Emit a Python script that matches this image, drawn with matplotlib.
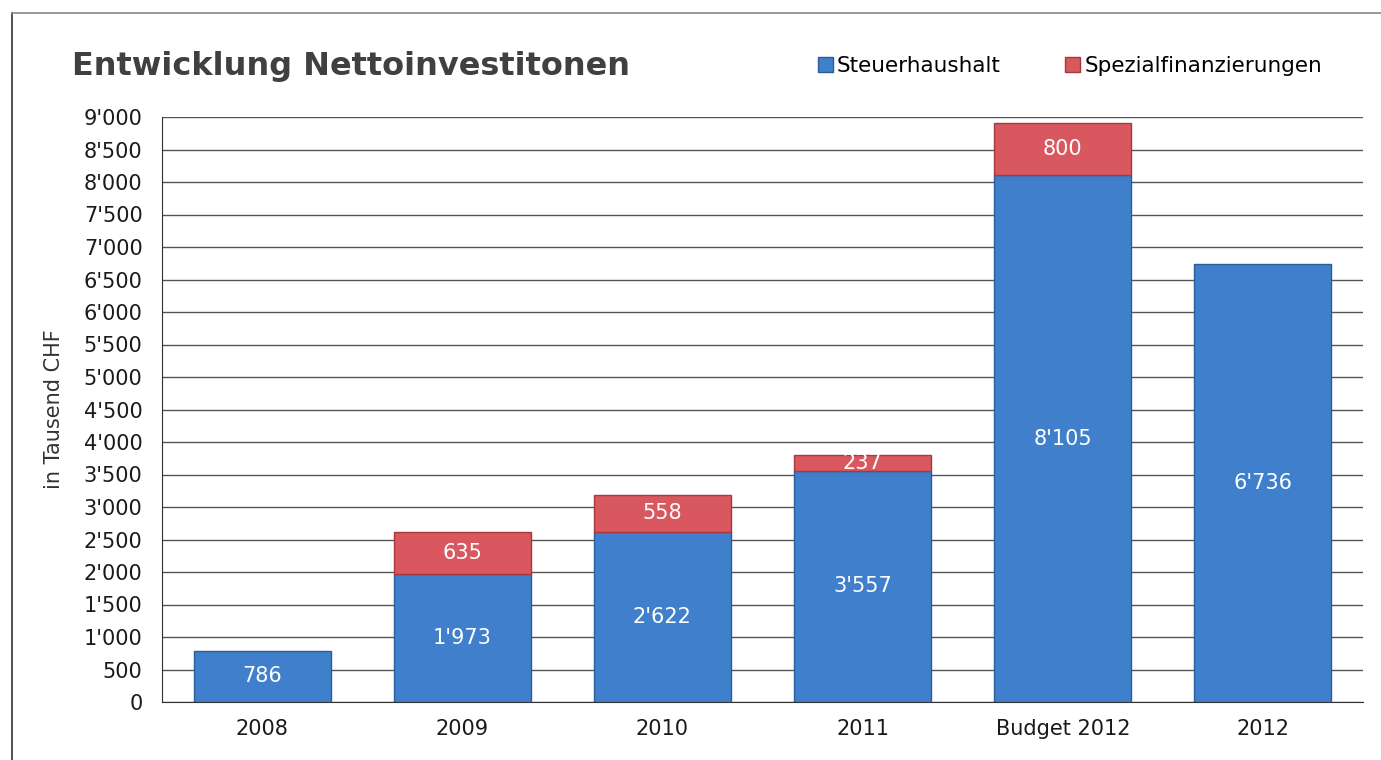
import matplotlib.pyplot as plt
from matplotlib.lines import Line2D
from matplotlib.patches import Patch
from matplotlib.ticker import FuncFormatter

categories = ['2008', '2009', '2010', '2011', 'Budget 2012', '2012']
steuerhaushalt = [786, 1973, 2622, 3557, 8105, 6736]
spezial = [0, 635, 558, 237, 800, 0]
yticks = list(range(0, 9001, 500))

blue = '#3f7fcc'
blue_edge = '#2a5d9c'
red = '#d9585f'
red_edge = '#a8383e'


def fmt(v):
    s = f'{int(v):,}'
    return s.replace(',', "'")


fig = plt.figure(figsize=(13.81, 7.60), dpi=100)
ax = fig.add_axes([162 / 1381, 1 - 702 / 760, 1201 / 1381, 585 / 760])

x = list(range(len(categories)))
ax.bar(x, steuerhaushalt, width=0.685, color=blue, edgecolor=blue_edge, linewidth=1, zorder=3)

# only draw the red segment where there is one
sx = [i for i in x if spezial[i]]
ax.bar(sx, [spezial[i] for i in sx], width=0.685, bottom=[steuerhaushalt[i] for i in sx],
       color=red, edgecolor=red_edge, linewidth=1, zorder=3)

for i in x:
    ax.text(i, steuerhaushalt[i] / 2, fmt(steuerhaushalt[i]), ha='center', va='center',
            color='white', fontsize=15, zorder=4)
    if spezial[i]:
        ax.text(i, steuerhaushalt[i] + spezial[i] / 2, fmt(spezial[i]), ha='center',
                va='center', color='white', fontsize=15, zorder=4)

ax.set_xlim(-0.5, len(categories) - 0.5)
ax.set_ylim(0, 9000)
ax.set_yticks(yticks)
ax.yaxis.set_major_formatter(FuncFormatter(lambda v, p: fmt(v)))
ax.set_xticks(x)
ax.set_xticklabels(categories)
ax.tick_params(axis='both', length=0, labelsize=15, colors='#1a1a1a')
ax.tick_params(axis='y', pad=14)
ax.tick_params(axis='x', pad=12)
ax.grid(axis='y', color='#555555', linewidth=1, zorder=0)
for s in ['top', 'right']:
    ax.spines[s].set_visible(False)
ax.spines['left'].set_color('#333333')
ax.spines['bottom'].set_color('#333333')
ax.set_ylabel('in Tausend CHF', fontsize=15, color='#333333', labelpad=14)

fig.text(72 / 1381, 1 - 67 / 760, 'Entwicklung Nettoinvestitonen', fontsize=23,
         fontweight='bold', color='#404040', va='center', ha='left')

handles = [Patch(facecolor=blue, edgecolor=blue_edge, label='Steuerhaushalt'),
           Patch(facecolor=red, edgecolor=red_edge, label='Spezialfinanzierungen')]
fig.legend(handles=handles, loc='center', bbox_to_anchor=(1070 / 1381, 1 - 66 / 760),
           ncol=2, frameon=False, fontsize=15.5, handlelength=0.7, handleheight=0.7,
           handletextpad=0.2, columnspacing=3)

# outer frame of the chart area
fig.add_artist(Line2D([12 / 1381, 12 / 1381], [0, 1 - 13 / 760], color='#333333', linewidth=1.2))
fig.add_artist(Line2D([12 / 1381, 1], [1 - 13 / 760, 1 - 13 / 760], color='#888888', linewidth=1.2))

fig.savefig('out.png', dpi=100)
